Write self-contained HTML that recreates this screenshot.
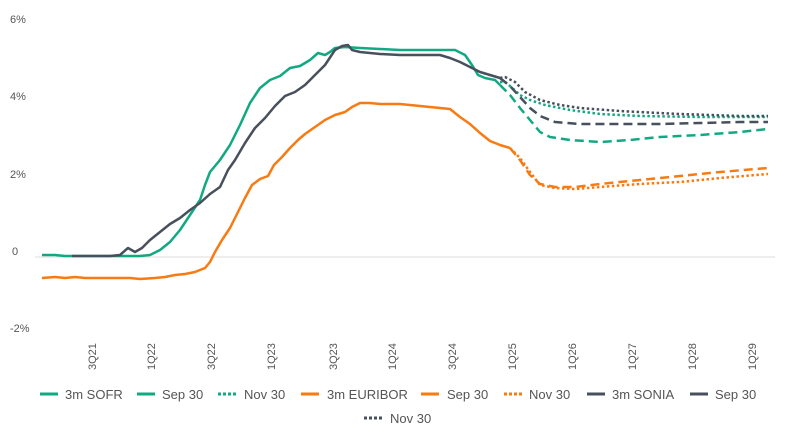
<!DOCTYPE html>
<html><head><meta charset="utf-8"><style>
html,body{margin:0;padding:0;background:#fff;}
svg{display:block;font-family:"Liberation Sans",sans-serif;}
</style></head><body>
<svg width="786" height="435" viewBox="0 0 786 435">
<g fill="#555" font-size="11">
<text x="10" y="23">6%</text>
<text x="10" y="100">4%</text>
<text x="10" y="178">2%</text>
<text x="12" y="255">0</text>
<text x="10" y="332">-2%</text>
</g>
<line x1="35" y1="257" x2="775" y2="257" stroke="#ddd" stroke-width="1"/>
<g fill="#555" font-size="11">
<text transform="translate(96,370) rotate(-90)">3Q21</text>
<text transform="translate(155,370) rotate(-90)">1Q22</text>
<text transform="translate(215,370) rotate(-90)">3Q22</text>
<text transform="translate(275,370) rotate(-90)">1Q23</text>
<text transform="translate(337,370) rotate(-90)">3Q23</text>
<text transform="translate(396,370) rotate(-90)">1Q24</text>
<text transform="translate(456,370) rotate(-90)">3Q24</text>
<text transform="translate(516,370) rotate(-90)">1Q25</text>
<text transform="translate(576,370) rotate(-90)">1Q26</text>
<text transform="translate(636,370) rotate(-90)">1Q27</text>
<text transform="translate(696,370) rotate(-90)">1Q28</text>
<text transform="translate(756,370) rotate(-90)">1Q29</text>
</g>
<g fill="none" stroke-width="2.5" stroke-linejoin="round" stroke-linecap="butt">
<!-- EURIBOR -->
<polyline stroke="#f77b12" points="42,278 55,277 65,278 75,277 85,278 130,278 140,279 155,278 165,277 175,275 185,274 195,272 205,268 210,262 215,252 222,240 230,228 238,212 245,198 252,185 260,179 268,176 274,165 282,157 290,148 298,140 305,134 315,127 325,120 335,115 345,112 352,107 360,103 370,103 380,104 400,104 420,106 440,108 450,109 460,117 470,124 480,133 490,141 500,145 510,148"/>
<polyline stroke="#f77b12" stroke-dasharray="9,5" points="510,148 520,160 530,175 540,184 555,187 575,187 600,184 640,180 680,176 720,172 768,168"/>
<polyline stroke="#f77b12" stroke-dasharray="2.5,2.5" points="510,148 520,158 530,172 540,185 555,188 575,189 600,187 640,184 680,182 720,178 768,174"/>
<!-- SOFR -->
<polyline stroke="#12a982" points="42,255 55,255 65,256 80,256 100,256 140,256 150,255 160,250 170,242 180,230 190,215 200,200 205,185 210,172 220,160 230,145 240,125 250,103 260,88 270,80 280,76 285,72 290,68 300,66 310,60 318,53 325,55 330,52 335,48 345,47 360,48 380,49 400,50 420,50 440,50 455,50 465,55 472,65 478,75 485,78 495,80 500,85"/>
<polyline stroke="#12a982" stroke-dasharray="9,5" points="500,85 510,95 520,108 530,120 540,132 550,137 570,140 600,142 630,140 660,137 700,135 740,132 768,129"/>
<polyline stroke="#12a982" stroke-dasharray="2.5,2.5" points="500,82 505,82 510,86 520,95 530,100 545,105 570,110 600,114 640,116 700,117 768,117"/>
<!-- SONIA -->
<polyline stroke="#47505c" points="72,256 110,256 120,255 128,248 135,252 142,248 150,240 160,232 170,224 180,218 190,210 200,203 210,194 220,187 228,170 235,160 245,143 255,128 265,118 275,106 285,96 295,92 305,85 315,75 325,65 335,50 342,46 348,45 352,50 360,52 380,54 400,55 440,55 450,58 460,62 470,67 480,72 490,75 500,78"/>
<polyline stroke="#47505c" stroke-dasharray="9,5" points="500,78 510,86 520,97 530,108 540,116 555,122 580,124 620,124 660,124 700,123 740,122 768,122"/>
<polyline stroke="#47505c" stroke-dasharray="2.5,2.5" points="500,78 505,77 515,82 525,92 540,100 560,105 580,108 620,111 680,114 740,116 768,116"/>
</g>
<g stroke-width="3">
<line x1="40" y1="394" x2="58" y2="394" stroke="#12a982"/>
<line x1="137" y1="394" x2="155" y2="394" stroke="#12a982"/>
<line x1="218" y1="394" x2="236" y2="394" stroke="#12a982" stroke-dasharray="3,2"/>
<line x1="301" y1="394" x2="319" y2="394" stroke="#f77b12"/>
<line x1="421" y1="394" x2="439" y2="394" stroke="#f77b12"/>
<line x1="504" y1="394" x2="522" y2="394" stroke="#f77b12" stroke-dasharray="3,2"/>
<line x1="587" y1="394" x2="605" y2="394" stroke="#47505c"/>
<line x1="690" y1="394" x2="708" y2="394" stroke="#47505c"/>
<line x1="364" y1="418" x2="382" y2="418" stroke="#47505c" stroke-dasharray="3,2"/>
</g>
<g fill="#555" font-size="13">
<text x="65" y="399">3m SOFR</text>
<text x="162" y="399">Sep 30</text>
<text x="244" y="399">Nov 30</text>
<text x="327" y="399">3m EURIBOR</text>
<text x="447" y="399">Sep 30</text>
<text x="529" y="399">Nov 30</text>
<text x="612" y="399">3m SONIA</text>
<text x="715" y="399">Sep 30</text>
<text x="390" y="423">Nov 30</text>
</g>
</svg>
</body></html>
